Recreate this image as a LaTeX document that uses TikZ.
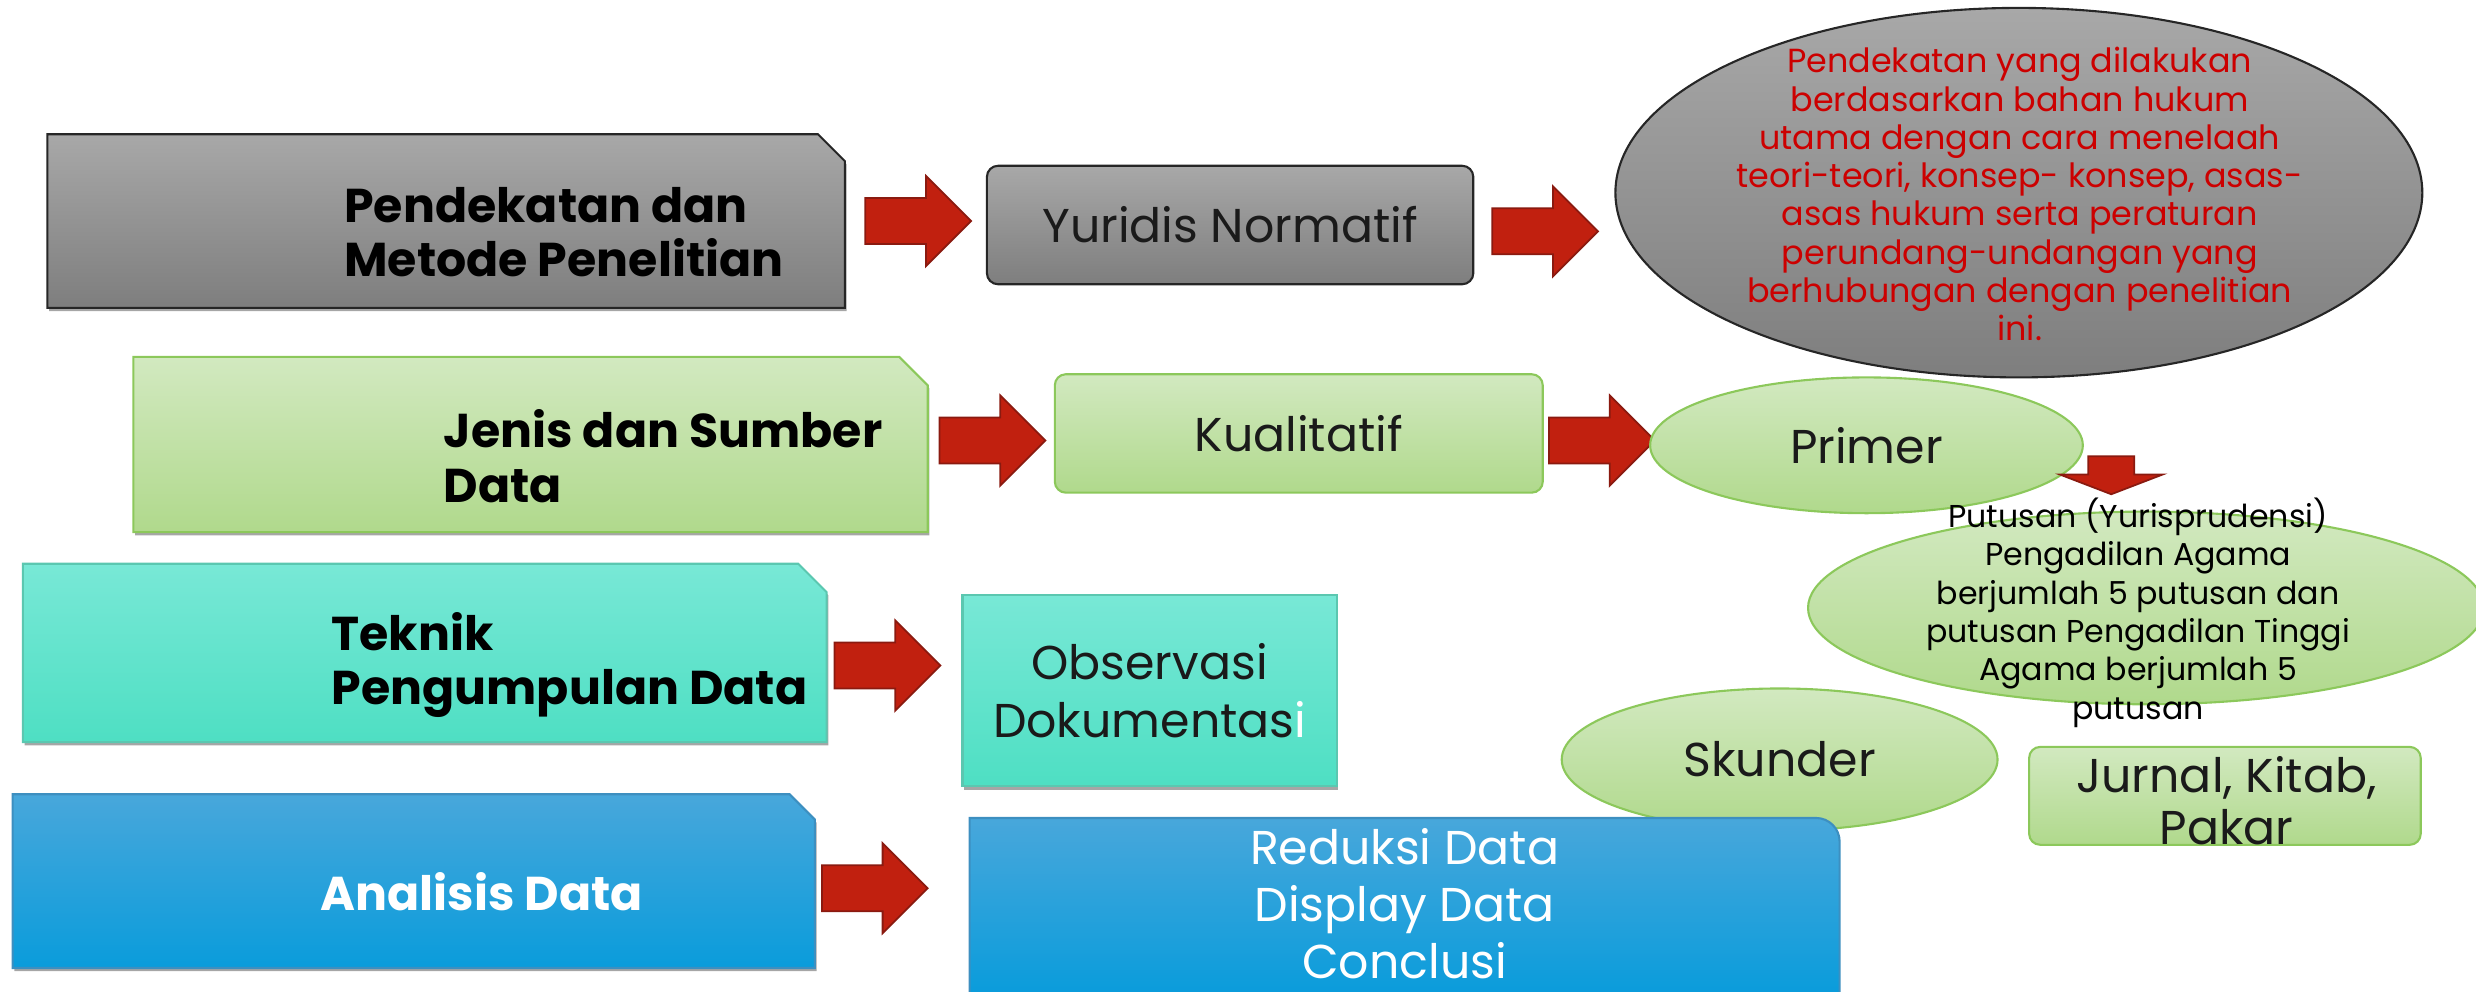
\documentclass[tikz,border=0pt]{standalone}
\usepackage{fontspec}
\setmainfont{Poppins}
\usetikzlibrary{shapes.arrows,shapes.geometric,shadows}
\definecolor{grayT}{HTML}{A8A8A8}
\definecolor{grayB}{HTML}{7E7E7E}
\definecolor{greenT}{HTML}{D2E9C0}
\definecolor{greenB}{HTML}{B0D98C}
\definecolor{greenL}{HTML}{8CC85B}
\definecolor{tealT}{HTML}{78E8D6}
\definecolor{tealB}{HTML}{4EDFC3}
\definecolor{tealL}{HTML}{5BC7B0}
\definecolor{blueT}{HTML}{48A7DB}
\definecolor{blueB}{HTML}{0A9CDB}
\definecolor{blueL}{HTML}{3D8FC0}
\definecolor{arrowR}{HTML}{C1200F}
\definecolor{arrowL}{HTML}{8A1A10}
\definecolor{redtext}{HTML}{CC0000}
\definecolor{labeltext}{HTML}{1A1A1A}
\newdimen\pu \pu=0.44935pt
\tikzset{
  every node/.style={inner sep=0pt, outer sep=0pt},
  softshadow/.style={drop shadow={shadow xshift=0.5pt, shadow yshift=-0.9pt, opacity=0.35, fill=black}},
  frame/.style={rectangle},
  roundbox/.style={rectangle, rounded corners=7*\pu, line width=0.6pt},
  ovalnode/.style={ellipse, line width=0.6pt},
  grayfill/.style={top color=grayT, bottom color=grayB, draw=black!85},
  greenfill/.style={top color=greenT, bottom color=greenB, draw=greenL},
  tealfill/.style={top color=tealT, bottom color=tealB, draw=tealL},
  bluefill/.style={top color=blueT, bottom color=blueB, draw=blueL},
  titletext/.style={align=left, text=black, font=\bfseries\fontsize{13.5}{15.5}\selectfont},
  labeltxt/.style={align=center, text=labeltext, font=\fontsize{13.5}{16.4}\selectfont},
  blockarrow/.style={single arrow, anchor=tail, single arrow head extend=14*\pu, text height=28*\pu,
    text depth=0pt, minimum height=67*\pu, fill=arrowR, draw=arrowL, line width=0.5pt}
}
\newcommand{\snipshape}[3]{% node, style, snip size
  \path[#2, line width=0.6pt, softshadow] (#1.south west) -- (#1.north west)
    -- ([xshift=-#3*\pu]#1.north east) -- ([yshift=-#3*\pu]#1.north east)
    -- (#1.south east) -- cycle;}
\begin{document}
\begin{tikzpicture}[x=0.44935pt,y=-0.44935pt]
\useasboundingbox (0,0) rectangle (1568,628);
% row 1
\node[frame, minimum width=505*\pu, minimum height=110*\pu] (A) at (282.5,140) {};
\snipshape{A}{grayfill}{17}
\node[titletext, anchor=west] (At) at (218,147) {Pendekatan dan\\Metode Penelitian};
\node[blockarrow] (a1) at (548,140) {};
\node[roundbox, grayfill, minimum width=308*\pu, minimum height=75*\pu, labeltxt] (B) at (779,142.5) {Yuridis Normatif};
\node[blockarrow] (a2) at (945,146.5) {};
\node[ovalnode, grayfill, minimum width=511*\pu, minimum height=234*\pu] (C) at (1278.5,122) {};
\node[align=center, text=redtext, font=\fontsize{9.5}{10.9}\selectfont] (Ct) at (1279,123)
  {Pendekatan yang dilakukan\\berdasarkan bahan hukum\\utama dengan cara menelaah\\teori-teori, konsep- konsep, asas-\\asas hukum serta peraturan\\perundang-undangan yang\\berhubungan dengan penelitian\\ini.};
% row 2
\node[frame, minimum width=503*\pu, minimum height=111*\pu] (D) at (336,281.5) {};
\snipshape{D}{greenfill}{18}
\node[titletext, anchor=west] (Dt) at (281,289) {Jenis dan Sumber\\Data};
\node[blockarrow] (a3) at (595,279) {};
\node[roundbox, greenfill, minimum width=309*\pu, minimum height=75*\pu, labeltxt] (E) at (822.5,274.5) {Kualitatif};
\node[blockarrow] (a4) at (981,279) {};
\node[ovalnode, greenfill, minimum width=274*\pu, minimum height=86*\pu, labeltxt] (F) at (1182,282) {Primer};
\node[blockarrow, rotate=-90, single arrow head extend=18*\pu, single arrow tip angle=138,
  minimum height=24*\pu] (a7) at (1337,289) {};
\node[ovalnode, greenfill, minimum width=428*\pu, minimum height=122*\pu] (G) at (1359,385) {};
\node[ovalnode, greenfill, minimum width=276*\pu, minimum height=90*\pu, labeltxt] (H) at (1127,481) {Skunder};
\node[align=center, text=black, font=\fontsize{9}{10.9}\selectfont] (Gt) at (1354,388)
  {Putusan (Yurisprudensi)\\Pengadilan Agama\\berjumlah 5 putusan dan\\putusan Pengadilan Tinggi\\Agama berjumlah 5\\putusan};
\node[roundbox, greenfill, minimum width=248*\pu, minimum height=62*\pu] (I) at (1409,504) {};
\node[labeltxt, font=\fontsize{13.5}{14.8}\selectfont] (It) at (1410,507) {Jurnal, Kitab,\\Pakar};
% row 3
\node[frame, minimum width=509*\pu, minimum height=113*\pu] (J) at (269,413.5) {};
\snipshape{J}{tealfill}{18}
\node[titletext, anchor=west] (Jt) at (210,421) {Teknik\\Pengumpulan Data};
\node[blockarrow] (a5) at (528.5,421.5) {};
\node[rectangle, tealfill, line width=0.6pt, softshadow, minimum width=237*\pu, minimum height=121*\pu, labeltxt] (K) at (728,437.5)
  {Observasi\\Dokumentas\textcolor{white}{i}};
% row 4
\node[frame, minimum width=508*\pu, minimum height=110*\pu] (L) at (262,558) {};
\snipshape{L}{bluefill}{16}
\node[titletext, anchor=west, text=white] (Lt) at (203,565) {Analisis Data};
\node[blockarrow] (a6) at (520.5,562.5) {};
\node[rectangle, minimum width=551*\pu, minimum height=111*\pu] (M) at (889.5,573.5) {};
\shade[top color=blueT, bottom color=blueB, draw=blueL, line width=0.6pt]
  (M.south west) -- (M.north west) -- ([xshift=-15*\pu]M.north east)
  arc[start angle=90, end angle=0, radius=15*\pu] -- (M.south east) -- cycle;
\node[align=center, text=white, font=\fontsize{13.5}{16.2}\selectfont] (Mt) at (M.center) [yshift=1*\pu]
  {Reduksi Data\\Display Data\\Conclusi};
\end{tikzpicture}
\end{document}
